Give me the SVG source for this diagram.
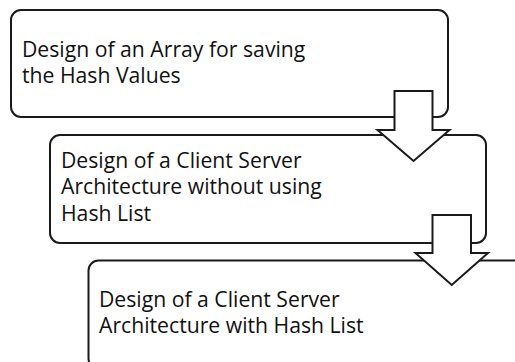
<svg xmlns="http://www.w3.org/2000/svg" width="515" height="362" viewBox="0 0 515 362">
  <style>
    .box { fill: #ffffff; stroke: #1a1a1a; stroke-width: 2; }
    .arrow { fill: #ffffff; stroke: #1a1a1a; stroke-width: 2; stroke-linejoin: miter; }
    .lbl { font-family: "Open Sans", "Liberation Sans", Arial, sans-serif; font-size: 21.2px; fill: #111111; }
  </style>
  <rect width="515" height="362" fill="#ffffff"/>
  <g id="node-array">
    <rect class="box" x="11" y="10" width="437" height="107" rx="10" ry="10"/>
    <text class="lbl" x="22" y="56.8">Design of an Array for saving</text>
    <text class="lbl" x="22" y="83.3">the Hash Values</text>
  </g>
  <g id="node-without">
    <rect class="box" x="50" y="135" width="436" height="108" rx="10" ry="10"/>
    <text class="lbl" x="61" y="167.5">Design of a Client Server</text>
    <text class="lbl" x="61" y="194">Architecture without using</text>
    <text class="lbl" x="61" y="220.5">Hash List</text>
  </g>
  <g id="node-with">
    <rect class="box" x="88.5" y="260.5" width="437" height="108" rx="10" ry="10"/>
    <text class="lbl" x="99" y="306.8">Design of a Client Server</text>
    <text class="lbl" x="99" y="333.3">Architecture with Hash List</text>
  </g>
  <g id="connectors">
    <polygon class="arrow" points="394.5,91 432.5,91 432.5,130 449.5,130 413.5,161 377.5,130 394.5,130"/>
    <polygon class="arrow" points="432.5,215 471,215 471,253 488,253 451.75,285 415.5,253 432.5,253"/>
  </g>
</svg>
